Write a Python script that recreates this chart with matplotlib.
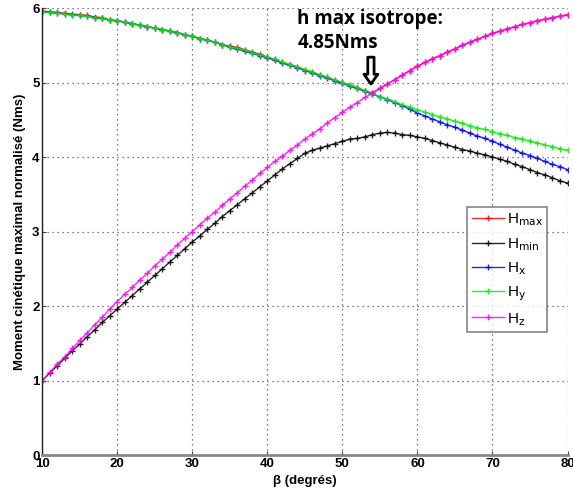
import matplotlib
matplotlib.use("Agg")
import matplotlib.pyplot as plt

plt.rcParams['font.family'] = ['Liberation Sans', 'DejaVu Sans']

beta = list(range(10, 81))

H_z = [1.00, 1.11, 1.22, 1.32, 1.43, 1.54, 1.64, 1.75, 1.85, 1.96,
       2.06, 2.16, 2.25, 2.35, 2.44, 2.54, 2.63, 2.72, 2.82, 2.91,
       3.00, 3.09, 3.18, 3.26, 3.35, 3.44, 3.52, 3.61, 3.69, 3.78,
       3.86, 3.94, 4.01, 4.09, 4.16, 4.24, 4.31, 4.38, 4.46, 4.53,
       4.60, 4.67, 4.73, 4.80, 4.86, 4.92, 4.98, 5.04, 5.10, 5.16,
       5.22, 5.27, 5.32, 5.36, 5.41, 5.45, 5.50, 5.54, 5.58, 5.62,
       5.66, 5.69, 5.72, 5.75, 5.78, 5.80, 5.83, 5.85, 5.87, 5.89,
       5.91]

H_min = [1.00, 1.10, 1.20, 1.30, 1.40, 1.49, 1.59, 1.68, 1.78, 1.87,
         1.96, 2.05, 2.14, 2.23, 2.32, 2.41, 2.50, 2.59, 2.68, 2.77,
         2.86, 2.94, 3.03, 3.11, 3.20, 3.28, 3.36, 3.44, 3.52, 3.60,
         3.68, 3.76, 3.84, 3.91, 3.98, 4.05, 4.09, 4.12, 4.15, 4.18,
         4.21, 4.24, 4.25, 4.27, 4.30, 4.32, 4.33, 4.32, 4.30, 4.29,
         4.27, 4.25, 4.22, 4.19, 4.16, 4.13, 4.10, 4.08, 4.05, 4.03,
         4.00, 3.97, 3.94, 3.90, 3.87, 3.83, 3.79, 3.76, 3.72, 3.68,
         3.65]

H_y = [5.95, 5.94, 5.93, 5.92, 5.91, 5.90, 5.89, 5.87, 5.86, 5.84,
       5.83, 5.81, 5.79, 5.77, 5.75, 5.73, 5.71, 5.69, 5.67, 5.64,
       5.62, 5.59, 5.57, 5.54, 5.51, 5.48, 5.46, 5.43, 5.40, 5.37,
       5.34, 5.31, 5.27, 5.24, 5.21, 5.17, 5.14, 5.10, 5.07, 5.03,
       5.00, 4.96, 4.93, 4.89, 4.85, 4.81, 4.78, 4.74, 4.70, 4.67,
       4.63, 4.60, 4.57, 4.54, 4.51, 4.48, 4.45, 4.42, 4.39, 4.37,
       4.34, 4.31, 4.29, 4.26, 4.24, 4.21, 4.19, 4.16, 4.14, 4.11,
       4.09]

H_x = [5.95, 5.94, 5.93, 5.92, 5.91, 5.90, 5.89, 5.87, 5.86, 5.84,
       5.83, 5.81, 5.79, 5.77, 5.75, 5.73, 5.71, 5.69, 5.67, 5.64,
       5.62, 5.59, 5.57, 5.54, 5.51, 5.47, 5.45, 5.42, 5.39, 5.36,
       5.33, 5.30, 5.26, 5.23, 5.20, 5.16, 5.13, 5.09, 5.06, 5.02,
       4.99, 4.95, 4.92, 4.88, 4.84, 4.81, 4.77, 4.73, 4.69, 4.64,
       4.59, 4.55, 4.51, 4.47, 4.43, 4.40, 4.36, 4.32, 4.28, 4.25,
       4.21, 4.17, 4.13, 4.09, 4.05, 4.02, 3.98, 3.94, 3.90, 3.87,
       3.83]

H_max = [5.96, 5.95, 5.94, 5.93, 5.92, 5.91, 5.90, 5.88, 5.87, 5.84,
         5.83, 5.81, 5.79, 5.77, 5.75, 5.73, 5.71, 5.69, 5.67, 5.64,
         5.62, 5.59, 5.57, 5.54, 5.51, 5.49, 5.47, 5.44, 5.41, 5.38,
         5.34, 5.31, 5.27, 5.24, 5.21, 5.17, 5.14, 5.10, 5.07, 5.03,
         5.00, 4.96, 4.93, 4.89, 4.86, 4.92, 4.98, 5.04, 5.10, 5.16,
         5.22, 5.27, 5.32, 5.36, 5.41, 5.45, 5.50, 5.54, 5.58, 5.62,
         5.66, 5.69, 5.72, 5.75, 5.78, 5.80, 5.83, 5.85, 5.87, 5.89,
         5.91]

labels = [r'H$_{\mathrm{max}}$', r'H$_{\mathrm{min}}$', r'H$_{\mathrm{x}}$',
          r'H$_{\mathrm{y}}$', r'H$_{\mathrm{z}}$']
colors = ['#ff0000', '#000000', '#0000ff', '#00ee00', '#ff00ff']
series = [H_max, H_min, H_x, H_y, H_z]

xticks = [10, 20, 30, 40, 50, 60, 70, 80]
yticks = [0, 1, 2, 3, 4, 5, 6]

fig = plt.figure(figsize=(5.73, 4.98), dpi=100)
ax = fig.add_axes([42.3 / 573, 1 - 455 / 498, (567.5 - 42.3) / 573, (455 - 8) / 498])

for s, c, l in zip(series, colors, labels):
    ax.plot(beta, s, color=c, lw=1.0, marker='+', ms=5, mew=1.0, label=l, alpha=0.85)

ax.set_xlim(10, 80)
ax.set_ylim(0, 6)
ax.set_xticks(xticks)
ax.set_yticks(yticks)
ax.tick_params(direction='in', length=3, labelsize=9.5, pad=2, colors='#444444', labelcolor='black')
for lab in ax.get_xticklabels() + ax.get_yticklabels():
    lab.set_fontweight('bold')
ax.grid(True, linestyle=(0, (1, 3)), color='#555555', lw=0.9)
ax.spines['top'].set_visible(False)
ax.spines['right'].set_visible(False)
ax.spines['left'].set_color('#222222')
ax.spines['bottom'].set_color('#888888')
ax.spines['bottom'].set_linewidth(2.0)
ax.spines['left'].set_linewidth(1.0)

ax.set_xlabel('β (degrés)', fontsize=9.5, fontweight='bold', labelpad=4)
ax.set_ylabel('Moment cinétique maximal normalisé (Nms)', fontsize=9.5, fontweight='bold', labelpad=4)

ax.text(44.0, 5.99, 'h max isotrope:\n4.85Nms', fontsize=13.5, fontweight='bold',
        va='top', ha='left', linespacing=1.3, family=['Open Sans', 'DejaVu Sans'])

ax.annotate('', xy=(53.8, 4.98), xytext=(53.8, 5.34),
            arrowprops=dict(arrowstyle='simple,head_length=0.7,head_width=1.0,tail_width=0.45',
                            fc='white', ec='black', lw=2.0, shrinkA=0, shrinkB=0))

leg = ax.legend(loc='upper left', bbox_to_anchor=(467 / 573, 1 - 207 / 498),
                bbox_transform=fig.transFigure, fontsize=11, frameon=True, fancybox=False,
                edgecolor='#666666', handlelength=2.1, handletextpad=0.2,
                labelspacing=0.5, borderpad=0.3, borderaxespad=0)
leg.get_frame().set_linewidth(1.2)

fig.savefig('out.png', dpi=100)
